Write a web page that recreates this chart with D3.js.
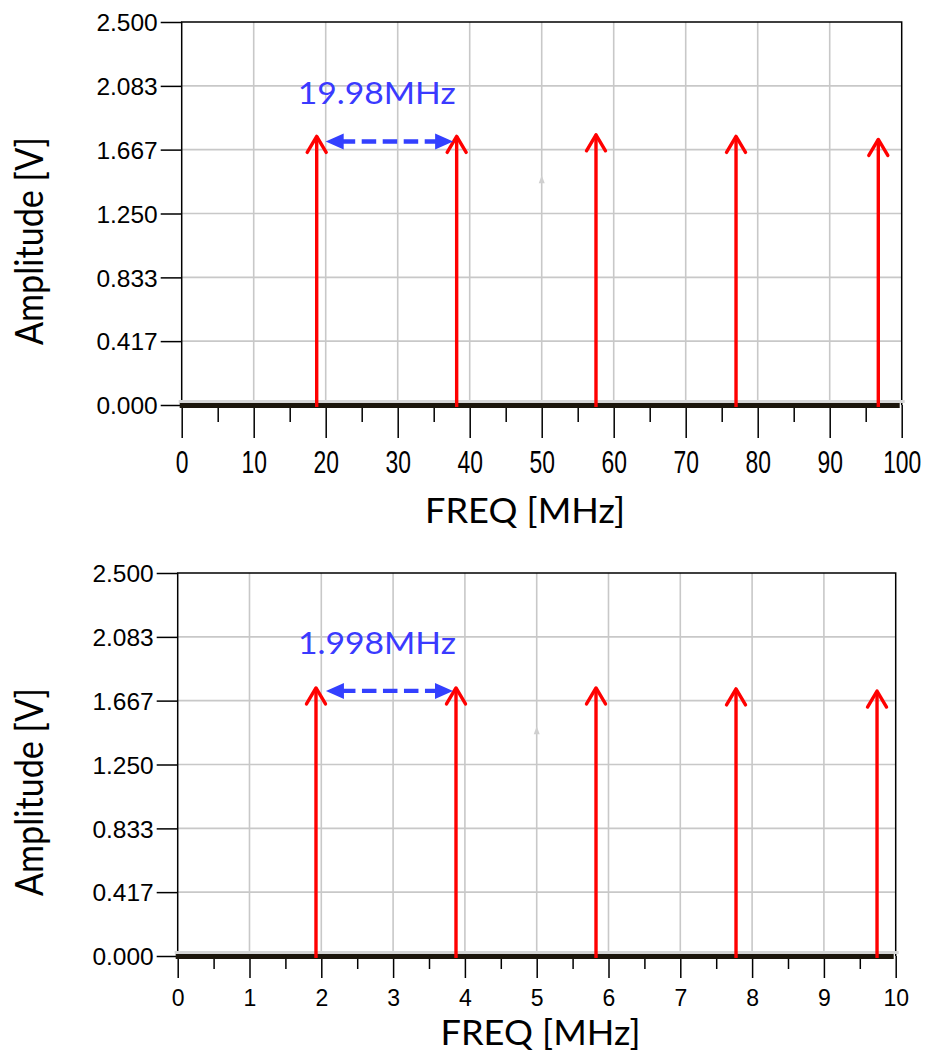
<!DOCTYPE html>
<html>
<head>
<meta charset="utf-8">
<script src="https://cdn.jsdelivr.net/npm/d3@7"></script>
<style>
  html, body { margin: 0; padding: 0; background: #ffffff; }
  svg { display: block; }
</style>
</head>
<body>
<svg id="chart" width="927" height="1052"></svg>
<script>
// Spectral lines of the two sampled signals (frequency in MHz, amplitude in V)
const topFreqs = [18.75, 38.19, 57.54, 76.99, 96.75];
const topAmps = [1.76, 1.76, 1.77, 1.76, 1.74];
const bottomFreqs = [1.926, 3.876, 5.826, 7.776, 9.74];
const bottomAmps = [1.756, 1.756, 1.756, 1.75, 1.736];

// Axis ticks
const yTickValues = [0, 0.417, 0.833, 1.25, 1.667, 2.083, 2.5];
const topXTicks = [0, 10, 20, 30, 40, 50, 60, 70, 80, 90, 100];
const topXMinor = [5, 15, 25, 35, 45, 55, 65, 75, 85, 95];
const bottomXTicks = [0, 1, 2, 3, 4, 5, 6, 7, 8, 9, 10];
const bottomXMinor = [0.5, 1.5, 2.5, 3.5, 4.5, 5.5, 6.5, 7.5, 8.5, 9.5];

// Spacing dimension between the first two lines
const topSpacing = { label: "19.98MHz", from: 20.0, to: 37.7, amp: 1.72 };
const bottomSpacing = { label: "1.998MHz", from: 2.065, to: 3.834, amp: 1.73 };

// Faint marker left on the plot
const topMarker = { freq: 50, amp: 1.5 };
const bottomMarker = { freq: 5, amp: 1.5 };

const svg = d3.select("#chart");
const tickFont = "'Liberation Sans', Arial, sans-serif";
const titleFont = "Lato, 'Open Sans', sans-serif";

function drawPanel(cfg) {
  const g = svg.append("g");
  const x = d3.scaleLinear().domain(cfg.xDomain).range([cfg.left, cfg.right]);
  const y = d3.scaleLinear().domain([0, 2.5]).range([cfg.bottom, cfg.top]);

  // grid
  g.append("g").selectAll("line.vg").data(cfg.xTicks.slice(1, -1)).join("line")
    .attr("x1", d => x(d)).attr("x2", d => x(d))
    .attr("y1", cfg.top).attr("y2", cfg.bottom)
    .attr("stroke", "#c8c8c8").attr("stroke-width", 1.6);
  g.append("g").selectAll("line.hg").data(yTickValues.slice(1, -1)).join("line")
    .attr("x1", cfg.left).attr("x2", cfg.right)
    .attr("y1", d => y(d)).attr("y2", d => y(d))
    .attr("stroke", "#c8c8c8").attr("stroke-width", 1.6);

  // frame: top, left, right
  g.append("path")
    .attr("d", `M${cfg.left},${cfg.bottom} V${cfg.top} H${cfg.right} V${cfg.bottom}`)
    .attr("fill", "none").attr("stroke", "#000").attr("stroke-width", 1.5);

  // y axis
  const yAxis = g.append("g")
    .attr("transform", `translate(${cfg.left},0)`)
    .call(d3.axisLeft(y).tickValues(yTickValues).tickSize(21).tickPadding(3)
      .tickFormat(d3.format(".3f")));
  yAxis.select(".domain").remove();
  yAxis.selectAll(".tick line").attr("stroke", "#000").attr("stroke-width", 1.5);
  yAxis.selectAll(".tick text")
    .attr("font-family", tickFont).attr("font-size", 24.5).attr("fill", "#000")
    .attr("dy", "0.36em");

  // x axis (major + minor ticks)
  const xAxis = g.append("g")
    .attr("transform", `translate(0,${cfg.bottom})`)
    .call(d3.axisBottom(x).tickValues(cfg.xTicks).tickSize(cfg.majorLen).tickFormat(d3.format("d")));
  xAxis.select(".domain").remove();
  xAxis.selectAll(".tick line").attr("stroke", "#000").attr("stroke-width", 1.5);
  xAxis.selectAll(".tick text")
    .attr("font-family", tickFont).attr("font-size", cfg.xFontSize).attr("fill", "#000")
    .attr("y", cfg.xLabelY).attr("dy", "0.36em")
    .attr("transform", `scale(${cfg.xLabelScale},1)`);
  const xMinor = g.append("g")
    .attr("transform", `translate(0,${cfg.bottom})`)
    .call(d3.axisBottom(x).tickValues(cfg.xMinor).tickSize(cfg.minorLen).tickFormat(""));
  xMinor.select(".domain").remove();
  xMinor.selectAll(".tick line").attr("stroke", "#000").attr("stroke-width", 1.5);

  // zero trace along the bottom
  g.append("line")
    .attr("x1", cfg.left - 3).attr("x2", cfg.right + 3)
    .attr("y1", cfg.bottom - 3.5).attr("y2", cfg.bottom - 3.5)
    .attr("stroke", "#d6d6d6").attr("stroke-width", 3);
  g.append("line")
    .attr("x1", cfg.left - 2).attr("x2", cfg.right - 2)
    .attr("y1", cfg.bottom + 0.5).attr("y2", cfg.bottom + 0.5)
    .attr("stroke", "#1b150b").attr("stroke-width", 5);

  // faint marker
  const mx = x(cfg.marker.freq), my = y(cfg.marker.amp);
  g.append("path")
    .attr("d", `M${mx},${my} L${mx - 3},${my + 8} L${mx + 3},${my + 8} Z`)
    .attr("fill", "#cfcfcf");

  // spectral lines as arrows
  const lines = cfg.freqs.map((f, i) => ({ f, a: cfg.amps[i] }));
  const arrows = g.append("g").selectAll("g").data(lines).join("g")
    .attr("fill", "none").attr("stroke", "#ff0000").attr("stroke-width", 3.4)
    .attr("stroke-linecap", "round").attr("stroke-linejoin", "round");
  arrows.append("line")
    .attr("x1", d => x(d.f)).attr("x2", d => x(d.f))
    .attr("y1", cfg.bottom + 2).attr("y2", d => y(d.a) + 1)
    .attr("stroke-linecap", "butt");
  arrows.append("path")
    .attr("d", d => `M${x(d.f) - 9.5},${y(d.a) + 17} L${x(d.f)},${y(d.a) + 1} L${x(d.f) + 9.5},${y(d.a) + 17}`);

  // dimension arrow between the first two lines
  const s = cfg.spacing;
  const x0 = x(s.from), x1 = x(s.to), ys = y(s.amp);
  const blue = "#3340ff";
  g.append("line")
    .attr("x1", x0 + 15).attr("x2", x1 - 17)
    .attr("y1", ys).attr("y2", ys)
    .attr("stroke", blue).attr("stroke-width", 4.3)
    .attr("stroke-dasharray", "14.5,6.5");
  g.append("path")
    .attr("d", `M${x0},${ys} L${x0 + 18},${ys - 8} L${x0 + 18},${ys + 8} Z`)
    .attr("fill", blue);
  g.append("path")
    .attr("d", `M${x1},${ys} L${x1 - 18},${ys - 8} L${x1 - 18},${ys + 8} Z`)
    .attr("fill", blue);
  g.append("text")
    .attr("x", x0 - 28).attr("y", ys - 37)
    .attr("font-family", titleFont).attr("font-size", 31).attr("fill", "#3a3aff")
    .attr("textLength", 158).attr("lengthAdjust", "spacingAndGlyphs")
    .text(s.label);

  // axis titles
  g.append("text")
    .attr("transform", `translate(43,${cfg.yTitleY}) rotate(-90)`)
    .attr("text-anchor", "middle")
    .attr("font-family", titleFont).attr("font-size", 39).attr("fill", "#000")
    .attr("textLength", 208).attr("lengthAdjust", "spacingAndGlyphs")
    .text("Amplitude [V]");
  g.append("text")
    .attr("x", cfg.xTitleX).attr("y", cfg.xTitleBaseline)
    .attr("text-anchor", "middle")
    .attr("font-family", titleFont).attr("font-size", 35).attr("fill", "#000")
    .attr("textLength", 200).attr("lengthAdjust", "spacingAndGlyphs")
    .text("FREQ [MHz]");
}

drawPanel({
  xDomain: [0, 100], left: 181.7, right: 901.7, top: 22, bottom: 405,
  xTicks: topXTicks, xMinor: topXMinor, majorLen: 33, minorLen: 17,
  xFontSize: 30.5, xLabelY: 57, xLabelScale: 0.75,
  freqs: topFreqs, amps: topAmps, spacing: topSpacing, marker: topMarker,
  yTitleY: 241, xTitleX: 525, xTitleBaseline: 523
});

drawPanel({
  xDomain: [0, 10], left: 177.7, right: 895.7, top: 573, bottom: 956,
  xTicks: bottomXTicks, xMinor: bottomXMinor, majorLen: 22, minorLen: 13,
  xFontSize: 23, xLabelY: 42, xLabelScale: 1,
  freqs: bottomFreqs, amps: bottomAmps, spacing: bottomSpacing, marker: bottomMarker,
  yTitleY: 792, xTitleX: 540.5, xTitleBaseline: 1045
});
</script>
</body>
</html>
